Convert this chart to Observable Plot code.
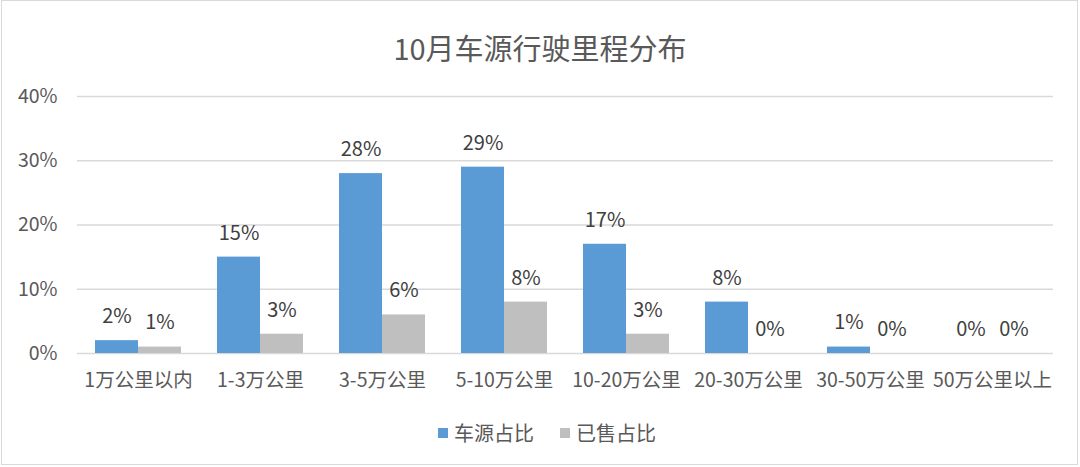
<!DOCTYPE html>
<html>
<head>
<meta charset="utf-8">
<script src="https://cdn.jsdelivr.net/npm/d3@7"></script>
<script src="https://cdn.jsdelivr.net/npm/@observablehq/plot@0.6"></script>
<style>
  html, body { margin: 0; padding: 0; background: #fff; }
  body { width: 1080px; height: 467px; overflow: hidden; position: relative; font-family: "Noto Sans CJK SC", "Noto Sans", sans-serif; }
  #frame { position: absolute; left: 1px; top: 0; width: 1077px; height: 465px; box-sizing: border-box; border: 1.5px solid #D9D9D9; }
  #title { position: absolute; left: 0; top: 28px; width: 1080px; text-align: center; font-size: 29px; line-height: 38px; color: #595959; }
  #chart { position: absolute; left: 0; top: 80px; }
  #legend { position: absolute; left: 0; top: 420px; width: 1080px; display: flex; justify-content: center; gap: 26px; font-size: 20px; line-height: 26px; color: #595959; padding-left: 14px; box-sizing: border-box; }
  .item { display: flex; align-items: center; gap: 6px; }
  .sw { width: 10px; height: 10px; display: inline-block; }
</style>
</head>
<body>
<div id="frame"></div>
<div id="title">10月车源行驶里程分布</div>
<div id="chart"></div>
<div id="legend"></div>
<script>
const categories = ["1万公里以内", "1-3万公里", "3-5万公里", "5-10万公里", "10-20万公里", "20-30万公里", "30-50万公里", "50万公里以上"];
const seriesNames = ["车源占比", "已售占比"];
const shareValues = [2, 15, 28, 29, 17, 8, 1, 0];
const soldValues = [1, 3, 6, 8, 3, 0, 0, 0];
const yTicks = [0, 10, 20, 30, 40];
const colors = ["#5B9BD5", "#BFBFBF"];

const data = categories.flatMap((c, i) => [
  {cat: c, series: seriesNames[0], value: shareValues[i]},
  {cat: c, series: seriesNames[1], value: soldValues[i]}
]);

const chart = Plot.plot({
  width: 1080,
  height: 330,
  marginTop: 16,
  marginBottom: 57,
  marginLeft: 75,
  marginRight: 25,
  style: {fontFamily: '"Noto Sans CJK SC", "Noto Sans", sans-serif', fontSize: "19.5px", color: "#595959", background: "transparent"},
  fx: {domain: categories, padding: 0, label: null},
  x: {domain: seriesNames, paddingInner: 0, paddingOuter: 0.4, axis: null},
  y: {domain: [0, 40], label: null},
  color: {domain: seriesNames, range: colors},
  marks: [
    Plot.gridY(yTicks, {stroke: "#D9D9D9", strokeOpacity: 1, strokeWidth: 1.5}),
    Plot.axisY(yTicks, {tickSize: 0, tickPadding: 20, tickFormat: d => d + "%", fontSize: 19.5, fill: "#595959", label: null}),
    Plot.axisFx({anchor: "bottom", tickSize: 0, tickPadding: 20, fontSize: 19.5, fill: "#595959", label: null}),
    Plot.barY(data, {fx: "cat", x: "series", y: "value", fill: "series"}),
    Plot.text(data, {fx: "cat", x: "series", y: "value", text: d => d.value + "%", dy: -24, fill: "#404040", fontSize: 20})
  ]
});
document.getElementById("chart").appendChild(chart);

const legend = document.getElementById("legend");
seriesNames.forEach((name, i) => {
  const item = document.createElement("div");
  item.className = "item";
  const sw = document.createElement("span");
  sw.className = "sw";
  sw.style.background = colors[i];
  const label = document.createElement("span");
  label.textContent = name;
  item.appendChild(sw);
  item.appendChild(label);
  legend.appendChild(item);
});
</script>
</body>
</html>
